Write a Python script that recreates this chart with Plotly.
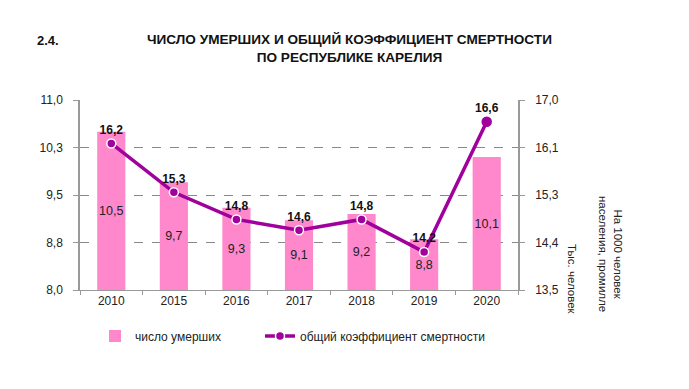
import plotly.graph_objects as go

years = ["2010", "2015", "2016", "2017", "2018", "2019", "2020"]
deaths = [10.5, 9.7, 9.3, 9.1, 9.2, 8.8, 10.1]          # тыс. человек
rate = [16.2, 15.3, 14.8, 14.6, 14.8, 14.2, 16.6]        # промилле

left_tickvals = [8.0, 8.75, 9.5, 10.25, 11.0]
left_ticktext = ["8,0", "8,8", "9,5", "10,3", "11,0"]
right_tickvals = [13.5, 14.375, 15.25, 16.125, 17.0]
right_ticktext = ["13,5", "14,4", "15,3", "16,1", "17,0"]

LEFT_MIN = left_tickvals[0]   # bars start at the axis floor, as in the reference

BAR = "#ff88cc"
LINE = "#a0009c"
FONT = "Liberation Sans, Arial, sans-serif"

def fmt(v):
    return f"{v:.1f}".replace(".", ",")

fig = go.Figure()
fig.add_trace(go.Bar(
    x=years, y=[v - LEFT_MIN for v in deaths], base=LEFT_MIN,
    name="число умерших",
    customdata=deaths, hovertemplate="%{x}: %{customdata}<extra></extra>",
    marker=dict(color=BAR, line=dict(width=0)),
    text=[fmt(v) for v in deaths], textposition="inside", textangle=0,
    insidetextanchor="middle", constraintext="none",
    textfont=dict(family=FONT, size=12.5, color="#222"),
    yaxis="y", legend="legend",
))
fig.add_trace(go.Scatter(
    x=years, y=rate, name="общий коэффициент смертности",
    mode="lines+markers+text",
    line=dict(color=LINE, width=3.5),
    marker=dict(color=LINE, size=9,
                line=dict(color=["white"] * 6 + [LINE], width=1.5)),
    text=[fmt(v) for v in rate], textposition="top center",
    textfont=dict(family=FONT, size=12, color="#111", weight="bold"),
    yaxis="y2", cliponaxis=False, legend="legend2",
))

leg_common = dict(orientation="h", xref="container", yref="container",
                  xanchor="left", yanchor="middle",
                  font=dict(family=FONT, size=12, color="#222"),
                  itemclick=False, bgcolor="rgba(0,0,0,0)")

fig.update_layout(
    width=689, height=389,
    margin=dict(l=80, r=171, t=100, b=99, autoexpand=False),
    paper_bgcolor="white", plot_bgcolor="white",
    font=dict(family=FONT, size=12, color="#222"),
    bargap=0.55,
    showlegend=True,
    legend=dict(x=95 / 689, y=1 - 336 / 389, **leg_common),
    legend2=dict(x=260 / 689, y=1 - 336 / 389, **leg_common),
    xaxis=dict(type="category", showgrid=False, showline=True, linecolor="#999",
               linewidth=1, ticks="outside", tickson="boundaries", ticklen=4,
               tickcolor="#999", tickfont=dict(size=12, color="#222")),
    yaxis=dict(range=[8.0, 11.0], tickvals=left_tickvals, ticktext=left_ticktext,
               showgrid=True, gridcolor="#888", griddash="dash", gridwidth=1,
               showline=True, linecolor="#999", linewidth=1.5,
               ticks="outside", ticklen=5, tickcolor="#999",
               zeroline=False, tickfont=dict(size=12, color="#222"), ticklabelstandoff=8),
    yaxis2=dict(range=[13.5, 17.0], overlaying="y", side="right",
                tickvals=right_tickvals, ticktext=right_ticktext,
                showgrid=False, showline=True, linecolor="#999", linewidth=1.5,
                ticks="outside", ticklen=5, tickcolor="#999", zeroline=False,
                tickfont=dict(size=12, color="#222"), ticklabelstandoff=8),
    annotations=[
        dict(text="<b>2.4.</b>", x=35, y=41, xref="paper", yref="paper",
             showarrow=False, xanchor="left", yanchor="middle",
             font=dict(size=13, color="#111")),
        dict(text="<b>ЧИСЛО УМЕРШИХ И ОБЩИЙ КОЭФФИЦИЕНТ СМЕРТНОСТИ<br>ПО РЕСПУБЛИКЕ КАРЕЛИЯ</b>",
             x=349, y=48, showarrow=False, xanchor="center", yanchor="middle",
             font=dict(size=13.6, color="#111")),
        dict(text="Тыс. человек", x=572, y=279, textangle=90, showarrow=False,
             xanchor="center", yanchor="middle", font=dict(size=11.5, color="#222")),
        dict(text="На 1000 человек<br>населения, промилле", x=611, y=254, textangle=90,
             showarrow=False, xanchor="center", yanchor="middle",
             font=dict(size=11.5, color="#222")),
    ],
)

# convert pixel-placed annotations to paper coords
pw = 689 - 80 - 171
ph = 389 - 100 - 99
for a in fig.layout.annotations:
    a.xref = "paper"; a.yref = "paper"
    a.x = (a.x - 80) / pw
    a.y = (389 - 99 - a.y) / ph

fig.write_html("out.html", config={"displayModeBar": False},
               post_script="document.body.style.margin='0';document.body.style.overflow='hidden';")
